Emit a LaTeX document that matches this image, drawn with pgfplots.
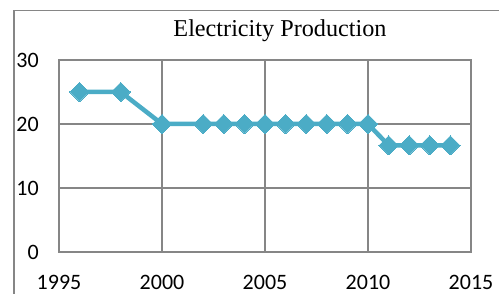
\documentclass[border=0pt]{standalone}
\usepackage{fontspec}
\setmainfont{Liberation Serif}
\newfontfamily\calibri{Carlito}
\usepackage{pgfplots}
\pgfplotsset{compat=1.18}
\definecolor{serblue}{HTML}{4BACC6}
\definecolor{gridgray}{HTML}{868686}
\begin{document}
\begin{tikzpicture}[x=1pt,y=1pt]
\path[use as bounding box] (0,0) rectangle (499,294);
\draw[gridgray, line width=1.2pt] (14,-2) -- (14,283.3) -- (501,283.3);
\node[anchor=base, font=\fontsize{24.2}{27}\selectfont, inner sep=0pt] at (280,257) {Electricity Production};
\begin{axis}[
  at={(59pt,42pt)}, anchor=south west,
  scale only axis, width=412pt, height=192pt,
  xmin=1995, xmax=2015, ymin=0, ymax=30,
  xtick={1995,2000,2005,2010,2015},
  ytick={0,10,20,30},
  grid=major,
  major grid style={gridgray, line width=1.2pt},
  axis line style={gridgray, line width=1.2pt},
  major tick length=0pt,
  /pgf/number format/assume math mode=true,
  /pgf/number format/1000 sep={},
  ticklabel style={font=\calibri\fontsize{22}{24}\selectfont, text=black, inner sep=0pt},
  xticklabel style={anchor=base, yshift=-38pt},
  yticklabel style={anchor=east, xshift=-20pt},
  clip=false,
]
\addplot[serblue, line width=4.5pt, mark=square*, mark size=6.8pt,
  mark options={rotate=45, solid, fill=serblue, draw=serblue, line width=0pt}]
  coordinates {
  (1996,25) (1998,25) (2000,20) (2002,20) (2003,20) (2004,20) (2005,20)
  (2006,20) (2007,20) (2008,20) (2009,20) (2010,20)
  (2011,16.67) (2012,16.67) (2013,16.67) (2014,16.67)
  };
\end{axis}
\end{tikzpicture}
\end{document}
